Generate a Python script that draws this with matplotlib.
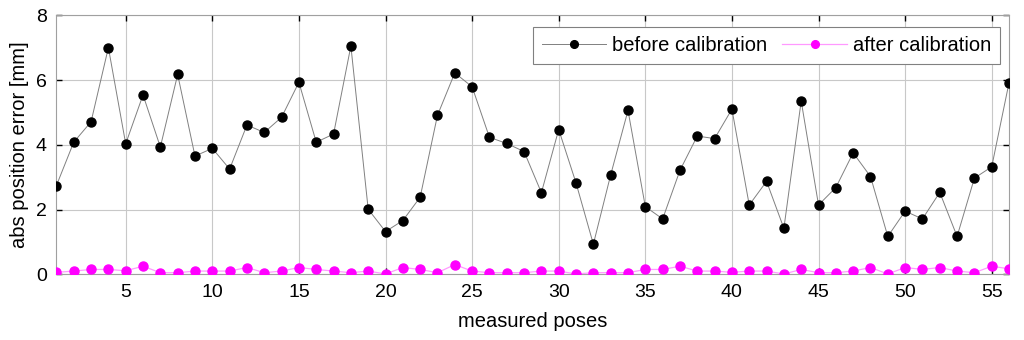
import matplotlib
matplotlib.use("Agg")
import matplotlib.pyplot as plt

poses = list(range(1, 57))
before = [2.74, 4.08, 4.71, 7.00, 4.03, 5.54, 3.93, 6.17, 3.65, 3.89,
          3.25, 4.61, 4.38, 4.85, 5.93, 4.08, 4.33, 7.05, 2.01, 1.32,
          1.66, 2.38, 4.91, 6.22, 5.79, 4.23, 4.04, 3.79, 2.52, 4.47,
          2.82, 0.93, 3.07, 5.06, 2.09, 1.71, 3.21, 4.27, 4.19, 5.10,
          2.14, 2.87, 1.42, 5.35, 2.14, 2.68, 3.75, 3.02, 1.17, 1.95,
          1.71, 2.53, 1.17, 2.97, 3.32, 5.92]
after = [0.06, 0.10, 0.15, 0.15, 0.11, 0.25, 0.05, 0.05, 0.10, 0.10,
         0.10, 0.21, 0.05, 0.10, 0.21, 0.15, 0.10, 0.05, 0.10, 0.01,
         0.21, 0.15, 0.05, 0.30, 0.10, 0.05, 0.05, 0.05, 0.10, 0.10,
         0.01, 0.05, 0.05, 0.05, 0.15, 0.15, 0.25, 0.10, 0.10, 0.06,
         0.10, 0.10, 0.01, 0.15, 0.05, 0.05, 0.10, 0.21, 0.01, 0.21,
         0.15, 0.21, 0.10, 0.05, 0.25, 0.17]
xticks = [5, 10, 15, 20, 25, 30, 35, 40, 45, 50, 55]
yticks = [0, 2, 4, 6, 8]

plt.rcParams['font.family'] = ['Liberation Sans', 'DejaVu Sans']

fig = plt.figure(figsize=(10.24, 3.4), dpi=100)
ax = fig.add_axes([0.0551, 0.1932, 0.9303, 0.762])

ax.plot(poses, before, color='#808080', lw=0.7, marker='o', ms=6.5,
        mfc='black', mec='black', label='before calibration', zorder=3)
ax.plot(poses, after, color='#ff99ff', lw=0.9, marker='o', ms=6.5,
        mfc='#ff00ff', mec='#ff00ff', label='after calibration', zorder=3)

ax.set_xlim(1, 56)
ax.set_ylim(0, 8)
ax.set_xticks(xticks)
ax.set_yticks(yticks)
ax.grid(True, color='#c8c8c8', lw=0.8)
ax.set_axisbelow(True)
for s in ax.spines.values():
    s.set_color('#a0a0a0')
    s.set_linewidth(0.8)
ax.tick_params(direction='in', length=4, width=1, color='black',
               labelsize=14, top=True, right=True, pad=7)
ax.set_xlabel('measured poses', fontsize=14.5, labelpad=8)
ax.set_ylabel('abs position error [mm]', fontsize=14.5, labelpad=5)

leg = ax.legend(loc='upper right', bbox_to_anchor=(0.9906, 0.9548),
                ncol=2, fontsize=14.5, frameon=True,
                fancybox=False, edgecolor='#808080', framealpha=1,
                borderaxespad=0.0, handlelength=3.2, columnspacing=0.75,
                handletextpad=0.3, borderpad=0.45, markerscale=0.85)
leg.get_frame().set_linewidth(0.8)

fig.savefig('out.png', dpi=100)
